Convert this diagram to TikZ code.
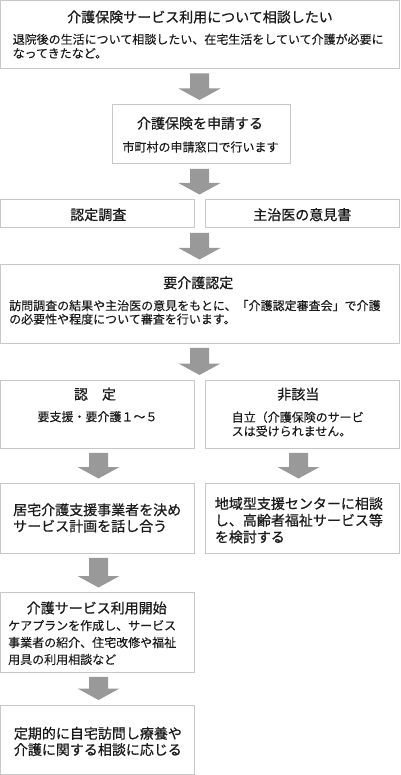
\documentclass[tikz,border=0pt]{standalone}
\usepackage{fontspec}
\setmainfont{Noto Sans CJK JP}
\newfontfamily\ttlfont[FakeBold=0.6]{Noto Sans CJK JP}
\newfontfamily\bodyfont[FakeBold=0.2]{Noto Sans CJK JP}
\usetikzlibrary{calc}
\definecolor{boxline}{HTML}{C8C8C8}
\definecolor{arrowfill}{HTML}{999999}
\definecolor{txt}{HTML}{1A1A1A}
\tikzset{
  frame/.style={draw=boxline, line width=1pt, inner sep=0pt, outer sep=0pt, anchor=north west},
  ttl/.style={font=\ttlfont\fontsize{14}{16}\selectfont, text=txt, inner sep=0pt, anchor=center},
  subline/.style={font=\bodyfont\fontsize{12}{14}\selectfont, text=txt, inner sep=0pt, anchor=center},
  bodytxt/.style={font=\bodyfont\fontsize{12}{#1}\selectfont, text=txt, inner sep=0pt, align=left, anchor=north west},
  bigtxt/.style={font=\ttlfont\fontsize{14}{#1}\selectfont, text=txt, inner sep=0pt, align=left, anchor=north west},
}
\newcommand\flowarrow[3]{%
  \fill[arrowfill] let \p1=(#2.south), \p2=(#3.north) in
    (#1pt-9.5pt,\y1-4.8pt) -- (#1pt+9.5pt,\y1-4.8pt) -- (#1pt+9.5pt,\y2+16.5pt) --
    (#1pt+21pt,\y2+16.5pt) -- (#1pt,\y2+5pt) -- (#1pt-21pt,\y2+16.5pt) --
    (#1pt-9.5pt,\y2+16.5pt) -- cycle;}
\begin{document}
\begin{tikzpicture}[x=1pt,y=-1pt]
\useasboundingbox (0,0) rectangle (400,775);
\fill[white] (0,0) rectangle (400,775);
% boxes
\node[frame, minimum width=399pt, minimum height=68pt] (b1) at (0.5,0.5) {};
\node[frame, minimum width=177.5pt, minimum height=59pt] (b2) at (112.5,105) {};
\node[frame, minimum width=194pt, minimum height=28.5pt] (b3l) at (0.5,199.5) {};
\node[frame, minimum width=194.5pt, minimum height=28.5pt] (b3r) at (205,199.5) {};
\node[frame, minimum width=399pt, minimum height=78.5pt] (b4) at (0.5,264.5) {};
\node[frame, minimum width=194pt, minimum height=68pt] (b5l) at (0.5,380) {};
\node[frame, minimum width=194.5pt, minimum height=68pt] (b5r) at (205,380) {};
\node[frame, minimum width=194pt, minimum height=69.5pt] (b6l) at (0.5,483.5) {};
\node[frame, minimum width=194.5pt, minimum height=69.5pt] (b6r) at (205,483.5) {};
\node[frame, minimum width=194pt, minimum height=79.5pt] (b7) at (0.5,592.5) {};
\node[frame, minimum width=194pt, minimum height=69.5pt] (b8) at (0.5,705) {};
% arrows
\flowarrow{199.5}{b1}{b2}
\flowarrow{199.5}{b2}{b3l}
\flowarrow{199.5}{b3l}{b4}
\flowarrow{199.5}{b4}{b5l}
\flowarrow{98.5}{b5l}{b6l}
\flowarrow{298.5}{b5r}{b6r}
\flowarrow{98.5}{b6l}{b7}
\flowarrow{98.5}{b7}{b8}
% texts
\node[ttl] (t1) at (200,17) {介護保険サービス利用について相談したい};
\node[bodytxt=14pt] (t1b) at (12.5,33.5) {退院後の生活について相談したい、在宅生活をしていて介護が必要に\\なってきたなど。};
\node[ttl] (t2) at (200,123.3) {介護保険を申請する};
\node[subline] (t2b) at (200.5,147) {市町村の申請窓口で行います};
\node[ttl] (t3l) at (98.3,214.7) {認定調査};
\node[ttl] (t3r) at (302.3,214.7) {主治医の意見書};
\node[ttl] (t4) at (198.3,282.8) {要介護認定};
\node[bodytxt=13.5pt] (t4b) at (9,299.8) {訪問調査の結果や主治医の意見をもとに、「介護認定審査会」で介護\\の必要性や程度について審査を行います。};
\node[ttl] (t5l) at (95,394.2) {認　定};
\node[subline] (t5lb) at (97.5,416.7) {要支援・要介護１～５};
\node[ttl] (t5r) at (298.3,394.2) {非該当};
\node[bodytxt=14pt] (t5rb) at (231.5,411.3) {自立（介護保険のサービ\\スは受けられません。};
\node[bigtxt=16.3pt] (t6l) at (13,503.1) {居宅介護支援事業者を決め\\サービス計画を話し合う};
\node[bigtxt=16.7pt] (t6r) at (214.7,496.9) {地域型支援センターに相談\\し、高齢者福祉サービス等\\を検討する};
\node[ttl] (t7) at (96.7,608) {介護サービス利用開始};
\node[bodytxt=17pt] (t7b) at (8,619.8) {ケアプランを作成し、サービス\\事業者の紹介、住宅改修や福祉\\用具の利用相談など};
\node[bigtxt=16.3pt] (t8) at (13.7,726.6) {定期的に自宅訪問し療養や\\介護に関する相談に応じる};
\end{tikzpicture}
\end{document}
